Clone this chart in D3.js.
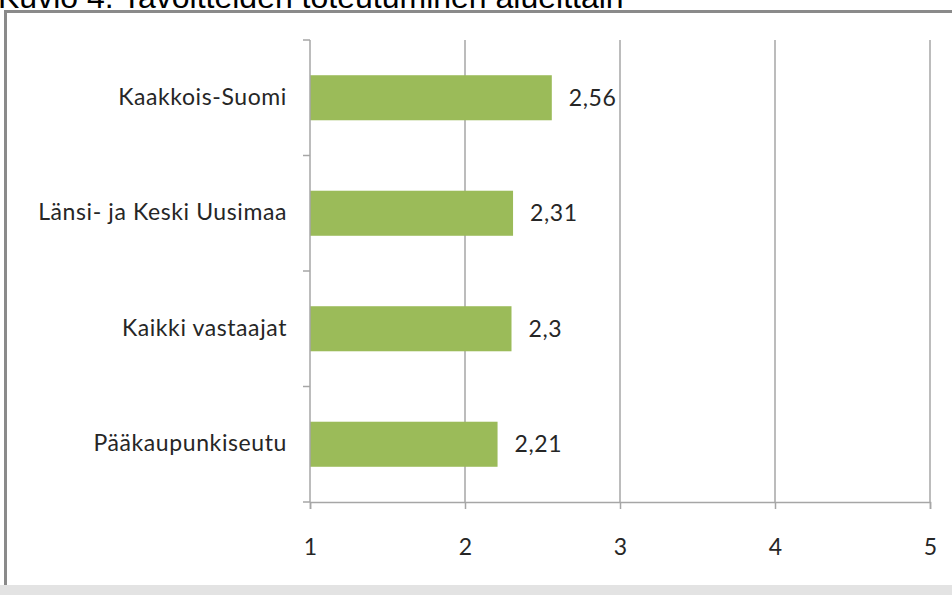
<!DOCTYPE html>
<html>
<head>
<meta charset="utf-8">
<script src="https://cdn.jsdelivr.net/npm/d3@7"></script>
<style>
  body { margin: 0; background: #fff; }
  svg { display: block; }
</style>
</head>
<body>
<svg id="chart" width="952" height="595"></svg>
<script>
// data
var categories = ["Kaakkois-Suomi", "Länsi- ja Keski Uusimaa", "Kaikki vastaajat", "Pääkaupunkiseutu"];
var values = [2.56, 2.31, 2.3, 2.21];
var valueLabels = ["2,56", "2,31", "2,3", "2,21"];
var xTicks = [1, 2, 3, 4, 5];
var title = "Kuvio 4. Tavoitteiden toteutuminen alueittain";

var svg = d3.select("#chart");

var margin = {top: 40, left: 310, right: 22, bottom: 93};
var W = 952, H = 595;

// grey strip at the bottom
svg.append("rect")
  .attr("x", 0).attr("y", 585)
  .attr("width", W).attr("height", 10)
  .attr("fill", "#e3e3e3");

// frame
svg.append("line")
  .attr("x1", 4).attr("x2", W)
  .attr("y1", 11.5).attr("y2", 11.5)
  .attr("stroke", "#8a8a8a").attr("stroke-width", 3);
svg.append("line")
  .attr("x1", 5.5).attr("x2", 5.5)
  .attr("y1", 11).attr("y2", 585)
  .attr("stroke", "#8a8a8a").attr("stroke-width", 3);

// title, cut at the top as in the original page
svg.append("text")
  .attr("x", -2).attr("y", 8)
  .attr("font-family", "Liberation Sans, Arial, sans-serif")
  .attr("font-size", 32)
  .attr("fill", "#000")
  .text(title);

var x = d3.scaleLinear()
  .domain([1, 5])
  .range([margin.left, W - margin.right]);

var y = d3.scaleBand()
  .domain(categories)
  .range([margin.top, H - margin.bottom])
  .paddingInner(0.61)
  .paddingOuter(0.305);

var font = "Lato, 'Open Sans', sans-serif";
var grid = "#a6a6a6";

// vertical gridlines
svg.append("g")
  .selectAll("line")
  .data(xTicks.slice(1))
  .enter()
  .append("line")
    .attr("x1", function (d) { return x(d); })
    .attr("x2", function (d) { return x(d); })
    .attr("y1", margin.top)
    .attr("y2", H - margin.bottom)
    .attr("stroke", grid)
    .attr("stroke-width", 1.5);

// bars
svg.append("g")
  .selectAll("rect")
  .data(values)
  .enter()
  .append("rect")
    .attr("x", x(1))
    .attr("y", function (d, i) { return y(categories[i]); })
    .attr("width", function (d) { return x(d) - x(1); })
    .attr("height", y.bandwidth())
    .attr("fill", "#9bbb59");

// value labels
svg.append("g")
  .selectAll("text")
  .data(values)
  .enter()
  .append("text")
    .attr("x", function (d) { return x(d) + 17; })
    .attr("y", function (d, i) { return y(categories[i]) + y.bandwidth() / 2; })
    .attr("dy", "0.35em")
    .attr("font-family", font)
    .attr("font-size", 23)
    .attr("letter-spacing", 0.6)
    .attr("fill", "#262626")
    .text(function (d, i) { return valueLabels[i]; });

// x axis
var xAxis = svg.append("g")
  .attr("transform", "translate(0," + (H - margin.bottom) + ")")
  .call(d3.axisBottom(x).tickValues(xTicks).tickSize(7).tickPadding(30).tickFormat(d3.format("d")));
xAxis.select(".domain").attr("stroke", grid).attr("stroke-width", 1.5);
xAxis.selectAll(".tick line").attr("stroke", grid).attr("stroke-width", 1.5);
xAxis.selectAll("text")
  .attr("font-family", font)
  .attr("font-size", 23)
  .attr("fill", "#262626");

// y axis: ticks between the categories
var bounds = d3.range(categories.length + 1).map(function (i) {
  return margin.top + i * y.step();
});
var yAxis = svg.append("g");
yAxis.append("line")
  .attr("x1", x(1)).attr("x2", x(1))
  .attr("y1", margin.top).attr("y2", H - margin.bottom)
  .attr("stroke", grid).attr("stroke-width", 1.5);
yAxis.selectAll(".yt")
  .data(bounds)
  .enter()
  .append("line")
    .attr("x1", x(1) - 7).attr("x2", x(1))
    .attr("y1", function (d) { return d; })
    .attr("y2", function (d) { return d; })
    .attr("stroke", grid).attr("stroke-width", 1.5);

// category labels
svg.append("g")
  .selectAll("text")
  .data(categories)
  .enter()
  .append("text")
    .attr("x", 287)
    .attr("y", function (d) { return y(d) + y.bandwidth() / 2; })
    .attr("dy", "0.3em")
    .attr("text-anchor", "end")
    .attr("font-family", font)
    .attr("font-size", 23)
    .attr("letter-spacing", 0.6)
    .attr("fill", "#262626")
    .text(function (d) { return d; });
</script>
</body>
</html>
